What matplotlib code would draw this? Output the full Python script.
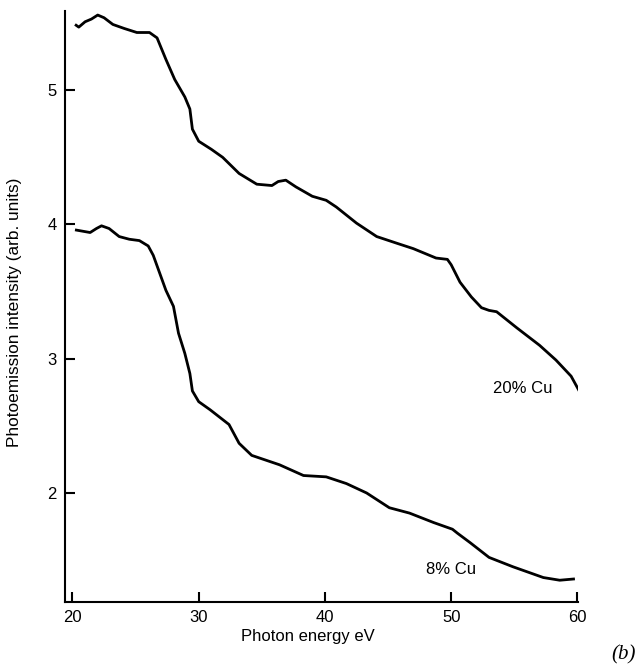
import matplotlib
matplotlib.use('Agg')
import matplotlib.pyplot as plt

# photon energy (eV) and intensity
e_20 = [20.2, 20.5, 21.0, 21.5, 22.0, 22.5, 23.2, 24.1, 25.1, 26.1, 26.7, 27.4, 28.1,
        28.9, 29.3, 29.5, 30.0, 31.0, 31.9, 33.2, 34.6, 35.8, 36.3, 36.9, 37.7, 39.0,
        40.1, 40.9, 42.5, 44.1, 45.7, 47.0, 48.8, 49.7, 50.0, 50.7, 51.6, 52.4, 53.0,
        53.6, 55.2, 57.0, 58.3, 59.5, 60.2]
i_20 = [5.49, 5.47, 5.51, 5.53, 5.56, 5.54, 5.49, 5.46, 5.43, 5.43, 5.39, 5.23, 5.08,
        4.95, 4.86, 4.71, 4.62, 4.56, 4.50, 4.38, 4.30, 4.29, 4.32, 4.33, 4.28, 4.21,
        4.18, 4.13, 4.01, 3.91, 3.86, 3.82, 3.75, 3.74, 3.70, 3.57, 3.46, 3.38, 3.36,
        3.35, 3.23, 3.10, 2.99, 2.87, 2.75]

e_8 = [20.2, 20.8, 21.4, 21.9, 22.3, 22.9, 23.7, 24.5, 25.3, 26.0, 26.4, 26.9, 27.4,
       28.0, 28.4, 28.9, 29.3, 29.5, 30.0, 30.9, 32.4, 33.2, 34.2, 36.4, 38.3, 40.1,
       41.7, 43.3, 45.1, 46.7, 48.6, 50.1, 50.5, 51.5, 53.0, 54.9, 57.3, 58.6, 59.8]
i_8 = [3.96, 3.95, 3.94, 3.97, 3.99, 3.97, 3.91, 3.89, 3.88, 3.84, 3.77, 3.64, 3.51,
       3.39, 3.19, 3.04, 2.89, 2.76, 2.68, 2.62, 2.51, 2.37, 2.28, 2.21, 2.13, 2.12,
       2.07, 2.00, 1.89, 1.85, 1.78, 1.73, 1.70, 1.63, 1.52, 1.45, 1.37, 1.35, 1.36]

x_ticks = [20, 30, 40, 50, 60]
y_ticks = [2, 3, 4, 5]

plt.rcParams['font.family'] = 'Liberation Sans'

fig = plt.figure(figsize=(6.4, 6.72), dpi=100, facecolor='white')
ax = fig.add_axes([0.1016, 0.1046, 0.8016, 0.8790])

ax.plot(e_20, i_20, c='black', lw=2.0, solid_capstyle='butt')
ax.plot(e_8, i_8, c='black', lw=2.0, solid_capstyle='butt')

ax.set_xlim(19.41, 60.05)
ax.set_ylim(1.19, 5.59)
ax.set_xticks(x_ticks)
ax.set_yticks(y_ticks)
ax.tick_params(direction='in', length=7, width=1.5, labelsize=12, pad=6)

ax.spines['top'].set_visible(False)
ax.spines['right'].set_visible(False)
for s in ['left', 'bottom']:
    ax.spines[s].set_linewidth(1.5)

ax.text(55.7, 2.78, '20% Cu', ha='center', va='center', fontsize=12)
ax.text(50.0, 1.43, '8% Cu', ha='center', va='center', fontsize=12)

fig.text(15 / 640, 1 - 312 / 672, 'Photoemission intensity (arb. units)',
         rotation=90, ha='center', va='center', fontsize=12.4)
fig.text(308 / 640, 1 - 637 / 672, 'Photon energy eV', ha='center', va='center', fontsize=12)
fig.text(0.975, 1 - 655 / 672, '(b)', ha='center', va='center', fontsize=15,
         family='Liberation Serif', style='italic')

fig.savefig('out.png', dpi=100, facecolor='white')
